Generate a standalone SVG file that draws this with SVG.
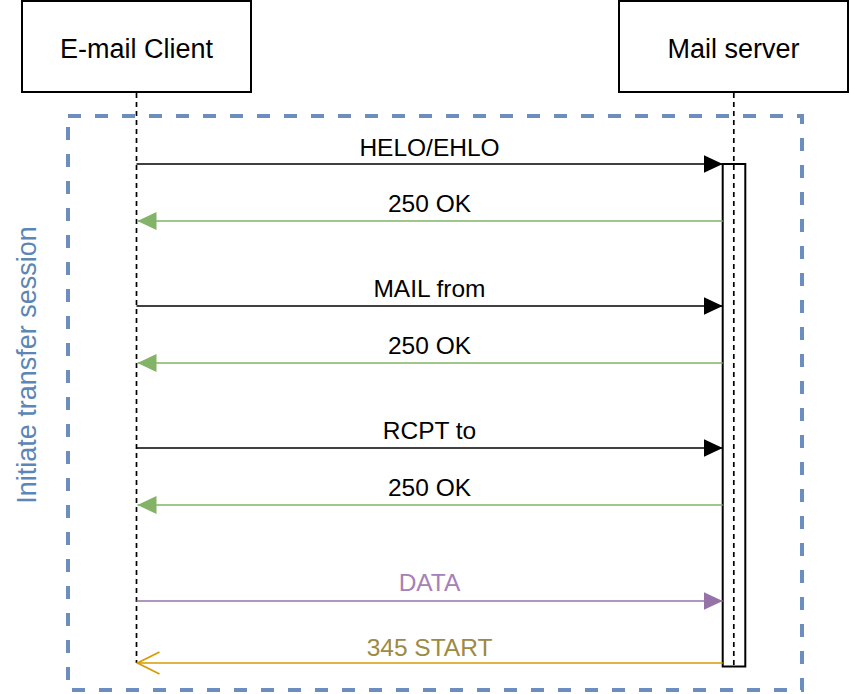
<svg xmlns="http://www.w3.org/2000/svg" width="850" height="694" viewBox="0 0 850 694">
<style>
text{font-family:"Liberation Sans",Arial,sans-serif;}
.node rect{fill:#ffffff;stroke:#000000;stroke-width:2;}
.node text{font-size:27px;fill:#000000;text-anchor:middle;}
.life{stroke:#000000;stroke-width:1.7;stroke-dasharray:5 4;fill:none;}
.lbl{font-size:24.5px;text-anchor:middle;}
.msg{stroke-width:1.7;fill:none;}
</style>
<defs>
<marker id="blk" viewBox="0 0 19 18" refX="19" refY="9" markerWidth="19" markerHeight="18" markerUnits="userSpaceOnUse" orient="auto"><path d="M0,0 L19,9 L0,18 Z" fill="#000000"/></marker>
<marker id="grn" viewBox="0 0 19 18" refX="19" refY="9" markerWidth="19" markerHeight="18" markerUnits="userSpaceOnUse" orient="auto"><path d="M0,0 L19,9 L0,18 Z" fill="#82b366"/></marker>
<marker id="pur" viewBox="0 0 19 18" refX="19" refY="9" markerWidth="19" markerHeight="18" markerUnits="userSpaceOnUse" orient="auto"><path d="M0,0 L19,9 L0,18 Z" fill="#9673a6"/></marker>
<marker id="opn" viewBox="0 0 25 26" refX="23" refY="13" markerWidth="25" markerHeight="26" markerUnits="userSpaceOnUse" orient="auto"><path d="M1,2 L23,13 L1,24" fill="none" stroke="#d79b00" stroke-width="1.7"/></marker>
</defs>

<g id="frame">
<rect x="68" y="116" width="734" height="574" fill="none" stroke="#6c8ebf" stroke-width="4" stroke-dasharray="13 14"/>
<text transform="translate(36,365) rotate(-90)" font-size="27px" fill="#5b86b5" text-anchor="middle">Initiate transfer session</text>
</g>

<g id="client" class="node">
<rect x="22" y="1" width="229" height="91"/>
<text x="136.5" y="58">E-mail Client</text>
</g>
<g id="server" class="node">
<rect x="619" y="1" width="229" height="91"/>
<text x="733.5" y="58">Mail server</text>
</g>

<g id="activation">
<rect x="722.7" y="164" width="22.6" height="502.5" fill="#ffffff" stroke="#000000" stroke-width="2"/>
</g>

<g id="lifelines">
<line class="life" x1="136.5" y1="93" x2="136.5" y2="663"/>
<line class="life" x1="733.8" y1="93" x2="733.8" y2="666"/>
</g>

<g id="connectors">
<line class="msg" x1="136.5" y1="164" x2="722.7" y2="164" stroke="#000000" marker-end="url(#blk)"/>
<line class="msg" x1="722.7" y1="221" x2="137.5" y2="221" stroke="#82b366" marker-end="url(#grn)"/>
<line class="msg" x1="136.5" y1="306" x2="722.7" y2="306" stroke="#000000" marker-end="url(#blk)"/>
<line class="msg" x1="722.7" y1="363" x2="137.5" y2="363" stroke="#82b366" marker-end="url(#grn)"/>
<line class="msg" x1="136.5" y1="448" x2="722.7" y2="448" stroke="#000000" marker-end="url(#blk)"/>
<line class="msg" x1="722.7" y1="505" x2="137.5" y2="505" stroke="#82b366" marker-end="url(#grn)"/>
<line class="msg" x1="136.5" y1="601" x2="722.7" y2="601" stroke="#9673a6" marker-end="url(#pur)"/>
<line class="msg" x1="722.7" y1="663" x2="137.5" y2="663" stroke="#d79b00" marker-end="url(#opn)"/>
</g>

<g id="labels">
<text class="lbl" x="429.5" y="156" fill="#000000">HELO/EHLO</text>
<text class="lbl" x="429.5" y="212" fill="#000000">250 OK</text>
<text class="lbl" x="429.5" y="297" fill="#000000">MAIL from</text>
<text class="lbl" x="429.5" y="354" fill="#000000">250 OK</text>
<text class="lbl" x="429.5" y="439" fill="#000000">RCPT to</text>
<text class="lbl" x="429.5" y="496" fill="#000000">250 OK</text>
<text class="lbl" x="429.5" y="591" fill="#a680b8">DATA</text>
<text class="lbl" x="429.5" y="656" fill="#9c8a45">345 START</text>
</g>
</svg>
